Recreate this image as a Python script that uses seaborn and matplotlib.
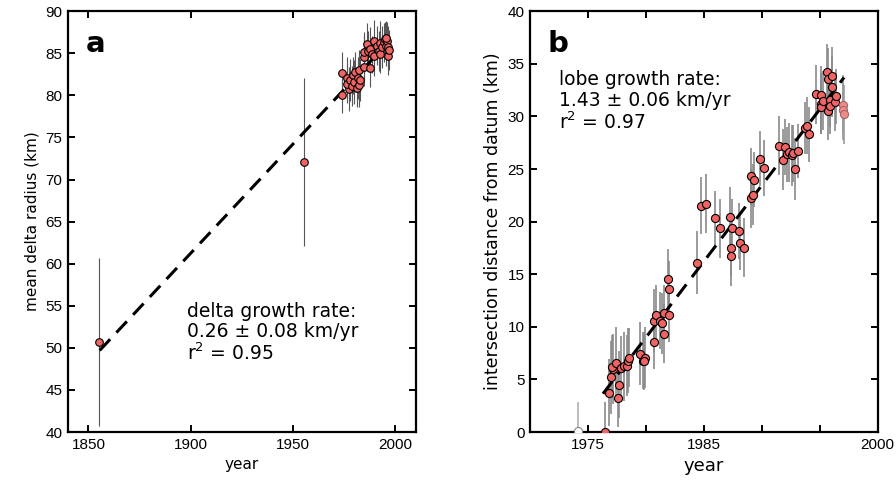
import numpy as np
import pandas as pd
import matplotlib
matplotlib.use("Agg")
import matplotlib.pyplot as plt
import seaborn as sns

# panel a: mean delta radius
a_year = [1855.2, 1955.2, 1973.9, 1973.9, 1976.4, 1977.2, 1976.4, 1978.0, 1978.8, 1979.3,
          1980.0, 1980.4, 1981.3, 1981.6, 1982.1, 1982.1, 1982.6, 1984.8, 1987.5, 1984.5,
          1984.8, 1986.1, 1986.5, 1987.8, 1988.6, 1989.4, 1989.7, 1991.0, 1991.9, 1992.7,
          1992.7, 1993.5, 1994.3, 1995.1, 1995.6, 1995.9, 1996.4, 1996.7, 1997.2, 1995.6]
a_radius = [50.7, 72.1, 80.1, 82.6, 82.1, 80.8, 81.4, 81.8, 81.1, 82.4,
            81.6, 82.8, 80.9, 82.1, 83.0, 81.2, 81.8, 83.4, 83.2, 84.5,
            85.1, 86.1, 85.3, 85.5, 84.9, 84.7, 86.5, 85.9, 85.3, 86.2,
            84.9, 85.7, 86.3, 86.7, 85.9, 86.5, 84.7, 85.7, 85.4, 86.8]
a_err = [10.0, 10.0, 2.2, 2.5, 2.4, 2.6, 2.3, 2.5, 2.4, 2.2,
         2.6, 2.4, 2.3, 2.5, 2.4, 2.6, 2.5, 2.3, 2.2, 2.5,
         2.4, 2.5, 2.3, 2.6, 2.2, 2.4, 2.5, 2.3, 2.4, 2.6,
         2.2, 2.5, 2.3, 2.0, 2.4, 2.2, 2.3, 2.5, 2.4, 2.0]
a_fit_year = [1855.5, 1997.0]
a_fit_radius = [49.7, 86.4]

# panel b: lobe intersection distance
b_year = [1976.51, 1976.80, 1977.00, 1977.14, 1977.06, 1977.43, 1977.66, 1977.60, 1977.86, 1978.14,
          1978.34, 1978.43, 1978.51, 1979.46, 1979.71, 1979.91, 1979.86, 1980.66, 1980.66, 1980.91,
          1981.20, 1981.37, 1981.57, 1981.57, 1981.91, 1982.00, 1982.00, 1984.43, 1984.77, 1985.23,
          1986.00, 1986.43, 1987.23, 1987.37, 1987.34, 1987.43, 1988.00, 1988.09, 1988.46, 1989.09,
          1989.31, 1989.09, 1989.23, 1989.89, 1990.23, 1991.51, 1991.80, 1992.00, 1992.20, 1992.37,
          1992.57, 1992.71, 1992.86, 1993.09, 1993.71, 1993.94, 1994.09, 1994.71, 1995.09, 1995.09,
          1995.14, 1995.29, 1995.63, 1995.71, 1995.71, 1995.86, 1995.86, 1996.06, 1996.09, 1996.29,
          1996.43]
b_dist = [0.05, 3.74, 5.2, 6.0, 6.2, 6.6, 4.5, 3.26, 6.1, 6.24,
          6.3, 6.8, 7.06, 7.44, 6.8, 7.06, 6.75, 8.55, 10.6, 11.15,
          10.6, 10.35, 11.34, 9.34, 14.57, 13.55, 11.15, 16.1, 21.5, 21.7,
          20.3, 19.35, 20.4, 17.5, 16.75, 19.35, 19.1, 18.0, 17.5, 24.3,
          24.0, 22.2, 22.55, 25.97, 25.1, 27.2, 25.9, 27.1, 26.4, 26.6,
          26.3, 26.5, 25.0, 26.7, 28.9, 29.1, 28.3, 32.1, 32.05, 31.2,
          30.9, 31.5, 34.2, 33.6, 30.55, 31.6, 31.0, 33.8, 32.8, 31.35,
          31.9]
b_err = [2.8, 3.2, 3.5, 3.3, 3.0, 3.4, 3.2, 2.8, 3.0, 3.3,
         2.9, 3.1, 2.8, 3.0, 2.7, 2.9, 2.8, 2.6, 3.0, 2.8,
         2.7, 2.9, 2.6, 2.8, 2.8, 2.7, 2.6, 3.0, 2.7, 2.8,
         2.6, 2.8, 2.9, 2.7, 2.9, 2.8, 2.7, 2.6, 2.8, 2.7,
         2.6, 2.8, 2.9, 2.6, 2.7, 2.8, 2.9, 2.7, 2.6, 2.8,
         2.9, 2.7, 2.9, 2.6, 2.5, 2.7, 2.6, 2.8, 2.7, 2.9,
         2.6, 2.8, 2.7, 2.9, 2.8, 2.6, 2.7, 2.8, 2.9, 2.7,
         2.6]
b_out_year = [1974.14]
b_out_dist = [0.06]
b_out_err = [2.8]
b_late_year = [1997.0, 1997.0, 1997.1]
b_late_dist = [31.1, 30.6, 30.2]
b_late_err = [2.8, 2.8, 2.8]
b_fit_year = [1976.3, 1997.1]
b_fit_dist = [3.64, 33.7]

sns.set_style("ticks")
plt.rcParams['font.family'] = ['DejaVu Sans']
plt.rcParams['axes.linewidth'] = 1.6
plt.rcParams['axes.edgecolor'] = 'black'
plt.rcParams['text.color'] = 'black'
plt.rcParams['axes.labelcolor'] = 'black'
plt.rcParams['xtick.color'] = 'black'
plt.rcParams['ytick.color'] = 'black'

red = "#f06464"

fig = plt.figure(figsize=(8.96, 4.86), dpi=100)
ax1 = fig.add_axes([0.0759, 0.111, 0.388, 0.866])
ax2 = fig.add_axes([0.5915, 0.111, 0.388, 0.866])

# ---- panel a
da = pd.DataFrame({'year': a_year, 'radius': a_radius, 'err': a_err})
ax1.errorbar(da['year'], da['radius'], yerr=da['err'], fmt='none',
             ecolor='#555555', elinewidth=0.8, zorder=1)
ax1.plot(a_fit_year, a_fit_radius, color='black', lw=2.2,
         linestyle=(0, (5, 3)), zorder=2)
sns.scatterplot(data=da, x='year', y='radius', ax=ax1, color=red,
                edgecolor='black', linewidth=0.8, s=30, zorder=3, legend=False)
ax1.set_xlim(1840, 2010)
ax1.set_ylim(40, 90)
ax1.set_xticks([1850, 1900, 1950, 2000])
ax1.set_yticks(np.arange(40, 91, 5))
ax1.set_xlabel('year', fontsize=11)
ax1.set_ylabel('mean delta radius (km)', fontsize=11)
ax1.text(0.05, 0.955, 'a', transform=ax1.transAxes, fontsize=21,
         fontweight='bold', va='top', ha='left')
ax1.text(0.342, 0.31, 'delta growth rate:\n0.26 \u00b1 0.08 km/yr\nr$^2$ = 0.95',
         transform=ax1.transAxes, fontsize=13.5, va='top', ha='left',
         linespacing=1.1)

# ---- panel b
db = pd.DataFrame({'year': b_year, 'dist': b_dist, 'err': b_err})
ax2.errorbar(db['year'], db['dist'], yerr=db['err'], fmt='none',
             ecolor='#8a8a8a', elinewidth=1.2, zorder=1)
ax2.errorbar(b_out_year, b_out_dist, yerr=b_out_err, fmt='none',
             ecolor='#b0b0b0', elinewidth=1.2, zorder=1)
ax2.errorbar(b_late_year, b_late_dist, yerr=b_late_err, fmt='none',
             ecolor='#9a9a9a', elinewidth=1.2, zorder=1)
ax2.plot(b_fit_year, b_fit_dist, color='black', lw=2.2,
         linestyle=(0, (5, 3)), zorder=2)
sns.scatterplot(data=db, x='year', y='dist', ax=ax2, color=red,
                edgecolor='black', linewidth=0.8, s=34, zorder=3, legend=False)
sns.scatterplot(x=b_out_year, y=b_out_dist, ax=ax2, color='white',
                edgecolor='#888888', linewidth=0.8, s=34, zorder=3, legend=False)
sns.scatterplot(x=b_late_year, y=b_late_dist, ax=ax2, color='#f38a8a',
                edgecolor='#9a6a6a', linewidth=0.8, s=34, zorder=3, legend=False)
ax2.set_xlim(1970, 2000)
ax2.set_ylim(0, 40)
ax2.set_xticks([1975, 1980, 1985, 1990, 1995, 2000])
ax2.set_xticklabels(['1975', '', '1985', '', '', '2000'])
ax2.set_yticks(np.arange(0, 41, 5))
ax2.set_xlabel('year', fontsize=13)
ax2.set_ylabel('intersection distance from datum (km)', fontsize=12.5)
ax2.text(0.05, 0.955, 'b', transform=ax2.transAxes, fontsize=21,
         fontweight='bold', va='top', ha='left')
ax2.text(0.083, 0.86, 'lobe growth rate:\n1.43 \u00b1 0.06 km/yr\nr$^2$ = 0.97',
         transform=ax2.transAxes, fontsize=13.5, va='top', ha='left',
         linespacing=1.1)

for ax in (ax1, ax2):
    ax.tick_params(direction='in', length=5, width=1.4, top=True, right=True,
                   pad=4, colors='black')
    for lab in ax.get_xticklabels() + ax.get_yticklabels():
        lab.set_fontfamily('Liberation Sans')
        lab.set_fontsize(11)
    for sp in ax.spines.values():
        sp.set_visible(True)
        sp.set_linewidth(1.6)
        sp.set_color('black')

fig.savefig('out.png', dpi=100)
